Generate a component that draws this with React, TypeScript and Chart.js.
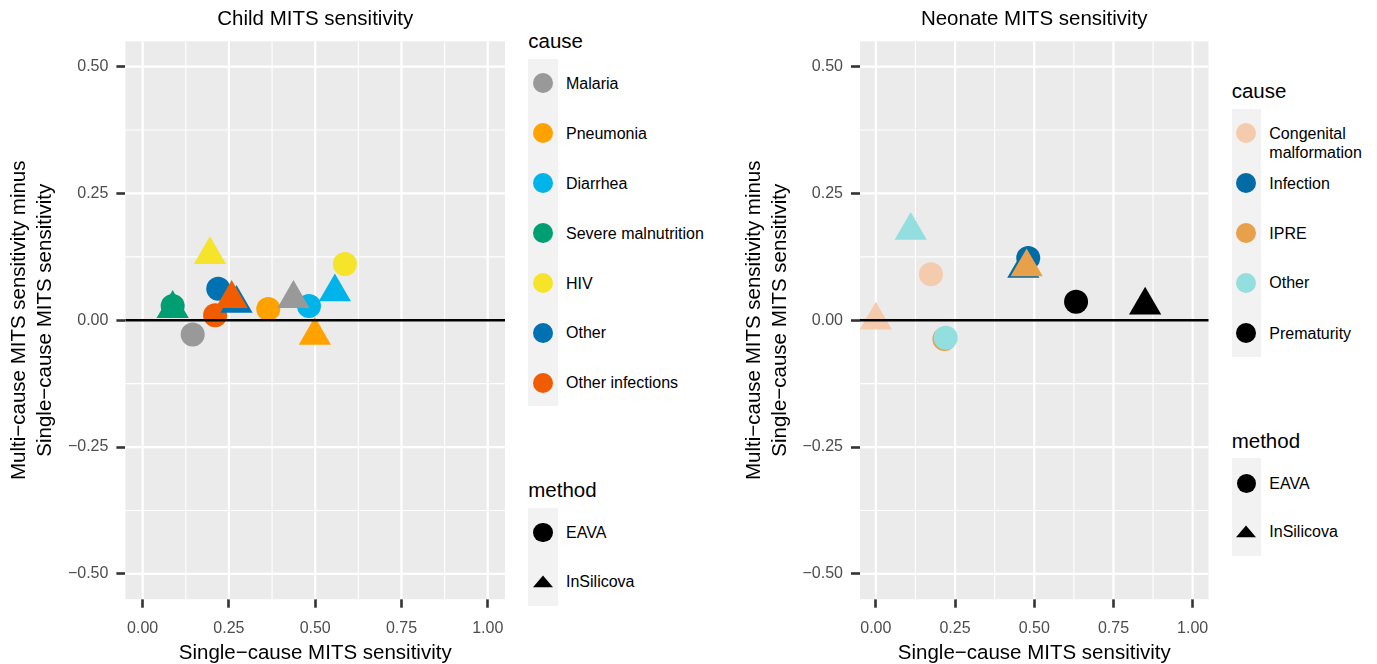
import React, { useEffect, useRef } from 'react';
import { Chart, registerables } from 'chart.js';

Chart.register(...registerables);

const FONT = '"Liberation Sans", Arial, Helvetica, sans-serif';

// ---------- data ----------
const X_TICKS = [0, 0.25, 0.5, 0.75, 1];
const X_TICK_LABELS = ['0.00', '0.25', '0.50', '0.75', '1.00'];
const Y_TICKS = [-0.5, -0.25, 0, 0.25, 0.5];
const Y_TICK_LABELS = ['\u22120.50', '\u22120.25', '0.00', '0.25', '0.50'];
const X_LIMITS = [-0.05, 1.05];
const Y_LIMITS = [-0.55, 0.55];
const METHODS = ['EAVA', 'InSilicova'];

const CHILD_TITLE = 'Child MITS sensitivity';
const CHILD_CAUSES = ['Malaria', 'Pneumonia', 'Diarrhea', 'Severe malnutrition', 'HIV', 'Other', 'Other infections'];
const CHILD_COLORS = ['#999999', '#FFA200', '#00B3E9', '#009E73', '#F5E42A', '#0072B2', '#F25C00'];
const CHILD_EAVA_X = [0.145, 0.364, 0.482, 0.087, 0.586, 0.219, 0.21];
const CHILD_EAVA_Y = [-0.028, 0.022, 0.028, 0.028, 0.111, 0.062, 0.01];
const CHILD_INSILICOVA_X = [0.437, 0.499, 0.557, 0.087, 0.195, 0.272, 0.258];
const CHILD_INSILICOVA_Y = [0.0425, -0.03, 0.0557, 0.023, 0.129, 0.033, 0.0425];

const NEONATE_TITLE = 'Neonate MITS sensitivity';
const NEONATE_CAUSES = ['Congenital\nmalformation', 'Infection', 'IPRE', 'Other', 'Prematurity'];
const NEONATE_COLORS = ['#F5CBAE', '#006BA4', '#E8A04A', '#93DFDF', '#000000'];
const NEONATE_EAVA_X = [0.174, 0.481, 0.2165, 0.2205, 0.632];
const NEONATE_EAVA_Y = [0.0906, 0.1227, -0.037, -0.0344, 0.0366];
const NEONATE_INSILICOVA_X = [0.0, 0.4655, 0.476, 0.11, 0.85];
const NEONATE_INSILICOVA_Y = [0.0, 0.102, 0.105, 0.177, 0.0295];

const X_TITLE = 'Single\u2212cause MITS sensitivity';
const Y_TITLE = ['Multi\u2212cause MITS sensitivity minus', 'Single\u2212cause MITS sensitivity'];

// ---------- plugin: ggplot-like panel ----------
const mids = (t: number[]) => t.slice(1).map((v, i) => (v + t[i]) / 2);

const panelPlugin = {
  id: 'ggpanel',
  beforeDatasetsDraw(chart: any) {
    const { ctx, chartArea: a, scales } = chart;
    const xs = scales.x;
    const ys = scales.y;
    ctx.save();
    ctx.fillStyle = '#EBEBEB';
    ctx.fillRect(a.left, a.top, a.right - a.left, a.bottom - a.top);
    ctx.strokeStyle = '#FFFFFF';
    const vline = (v: number) => {
      const p = xs.getPixelForValue(v);
      ctx.beginPath();
      ctx.moveTo(p, a.top);
      ctx.lineTo(p, a.bottom);
      ctx.stroke();
    };
    const hline = (v: number) => {
      const p = ys.getPixelForValue(v);
      ctx.beginPath();
      ctx.moveTo(a.left, p);
      ctx.lineTo(a.right, p);
      ctx.stroke();
    };
    ctx.lineWidth = 1.1;
    mids(X_TICKS).forEach(vline);
    mids(Y_TICKS).forEach(hline);
    ctx.lineWidth = 2.2;
    X_TICKS.forEach(vline);
    Y_TICKS.forEach(hline);
    ctx.restore();
  },
  afterDatasetsDraw(chart: any) {
    const { ctx, chartArea: a, scales } = chart;
    const p = scales.y.getPixelForValue(0);
    ctx.save();
    ctx.strokeStyle = '#000000';
    ctx.lineWidth = 2.6;
    ctx.beginPath();
    ctx.moveTo(a.left, p);
    ctx.lineTo(a.right, p);
    ctx.stroke();
    ctx.restore();
  },
};

type PanelProps = {
  title: string;
  colors: string[];
  eavaX: number[];
  eavaY: number[];
  inX: number[];
  inY: number[];
  left: number;
  width: number;
  padRight: number;
  yAxisWidth: number;
};

function ChartPanel(p: PanelProps) {
  const ref = useRef<HTMLCanvasElement>(null);
  useEffect(() => {
    const canvas = ref.current;
    if (!canvas) return;
    const chart = new Chart(canvas, {
      type: 'scatter',
      data: {
        datasets: [
          {
            label: METHODS[0],
            data: p.eavaX.map((x, i) => ({ x, y: p.eavaY[i] })),
            pointStyle: 'circle',
            pointRadius: 12,
            pointHoverRadius: 12,
            backgroundColor: p.colors,
            borderWidth: 0,
            order: 2,
          },
          {
            label: METHODS[1],
            data: p.inX.map((x, i) => ({ x, y: p.inY[i] })),
            pointStyle: 'triangle',
            pointRadius: 18.6,
            pointHoverRadius: 18.6,
            backgroundColor: p.colors,
            borderWidth: 0,
            order: 1,
          },
        ],
      },
      options: {
        responsive: false,
        animation: false,
        devicePixelRatio: 1,
        events: [],
        layout: { autoPadding: false, padding: { left: 0, top: 0, right: p.padRight, bottom: 0 } },
        plugins: {
          legend: { display: false },
          tooltip: { enabled: false },
          title: {
            display: true,
            text: p.title,
            fullSize: false,
            color: '#000000',
            font: { size: 20.5, family: FONT, weight: 'normal', lineHeight: 1.2 },
            padding: { top: 7.4, bottom: 9.3 },
          },
        },
        scales: {
          x: {
            type: 'linear',
            min: X_LIMITS[0],
            max: X_LIMITS[1],
            afterBuildTicks: (s: any) => {
              s.ticks = X_TICKS.map((v) => ({ value: v }));
            },
            afterFit: (s: any) => {
              s.height = 64.8;
            },
            ticks: {
              callback: (_v: any, i: number) => X_TICK_LABELS[i],
              color: '#4D4D4D',
              font: { size: 16, family: FONT, lineHeight: 1.2 },
              padding: 11.5,
              maxRotation: 0,
              autoSkip: false,
            },
            grid: {
              drawOnChartArea: false,
              drawTicks: true,
              tickLength: 8.5,
              tickColor: '#333333',
              tickWidth: 2.6,
            },
            border: { display: false },
            title: {
              display: true,
              text: X_TITLE,
              color: '#000000',
              font: { size: 20.5, family: FONT, lineHeight: 1 },
              padding: { top: 0, bottom: 0 },
            },
          },
          y: {
            type: 'linear',
            min: Y_LIMITS[0],
            max: Y_LIMITS[1],
            afterBuildTicks: (s: any) => {
              s.ticks = Y_TICKS.map((v) => ({ value: v }));
            },
            afterFit: (s: any) => {
              s.width = p.yAxisWidth;
            },
            ticks: {
              callback: (_v: any, i: number) => Y_TICK_LABELS[i],
              color: '#4D4D4D',
              font: { size: 16, family: FONT, lineHeight: 1.2 },
              padding: 8,
              autoSkip: false,
            },
            grid: {
              drawOnChartArea: false,
              drawTicks: true,
              tickLength: 9,
              tickColor: '#333333',
              tickWidth: 2.6,
            },
            border: { display: false },
            title: {
              display: true,
              text: Y_TITLE,
              color: '#000000',
              font: { size: 20.5, family: FONT, lineHeight: 1.263 },
              padding: { top: 6.35, bottom: 0 },
            },
          },
        },
      },
      plugins: [panelPlugin],
    } as any);
    return () => chart.destroy();
  }, []);
  return (
    <canvas
      ref={ref}
      width={p.width}
      height={664}
      style={{ position: 'absolute', left: p.left, top: 0, width: p.width, height: 664 }}
    />
  );
}

// ---------- legends (HTML) ----------
type LegendProps = {
  boxLeft: number;
  boxWidth: number;
  textLeft: number;
  causes: string[];
  colors: string[];
  causeTitleBaseline: number;
  causeBoxTop: number;
  causeCenters: number[];
  methodTitleBaseline: number;
  methodBoxTop: number;
  methodCenters: number[];
};

function LegendBlock(l: LegendProps) {
  const cx = l.boxLeft + l.boxWidth / 2;
  const title = (text: string, baseline: number) => (
    <div
      style={{
        position: 'absolute',
        left: l.boxLeft,
        top: baseline - 19.1,
        fontSize: 20.5,
        lineHeight: '24px',
        color: '#000',
        whiteSpace: 'nowrap',
      }}
    >
      {text}
    </div>
  );
  const label = (text: string, center: number, key: string) => {
    const lines = text.split('\n');
    return (
      <div
        key={key}
        style={{
          position: 'absolute',
          left: l.textLeft,
          top: center - 9.6,
          fontSize: 16,
          lineHeight: '19.4px',
          color: '#000',
          whiteSpace: 'nowrap',
        }}
      >
        {lines.map((ln, i) => (
          <div key={i}>{ln}</div>
        ))}
      </div>
    );
  };
  const step = 49.6;
  const causeBoxH = l.causeCenters.length * step;
  const methodBoxH = l.methodCenters.length * 49;
  return (
    <>
      {title('cause', l.causeTitleBaseline)}
      <div
        style={{
          position: 'absolute',
          left: l.boxLeft,
          top: l.causeBoxTop,
          width: l.boxWidth,
          height: causeBoxH,
          background: '#F2F2F2',
        }}
      />
      {l.causes.map((c, i) => (
        <div
          key={'c' + i}
          style={{
            position: 'absolute',
            left: cx - 10,
            top: l.causeCenters[i] - 10,
            width: 20,
            height: 20,
            borderRadius: '50%',
            background: l.colors[i],
          }}
        />
      ))}
      {l.causes.map((c, i) => label(c, l.causeCenters[i], 'cl' + i))}

      {title('method', l.methodTitleBaseline)}
      <div
        style={{
          position: 'absolute',
          left: l.boxLeft,
          top: l.methodBoxTop,
          width: l.boxWidth,
          height: methodBoxH,
          background: '#F2F2F2',
        }}
      />
      <div
        style={{
          position: 'absolute',
          left: cx - 9.6,
          top: l.methodCenters[0] - 9.6,
          width: 19.2,
          height: 19.2,
          borderRadius: '50%',
          background: '#000',
        }}
      />
      <svg
        width={22}
        height={14}
        style={{ position: 'absolute', left: cx - 11, top: l.methodCenters[1] - 7.2 }}
      >
        <polygon points="11,0.5 21,12.3 1,12.3" fill="#000" />
      </svg>
      {METHODS.map((m, i) => label(m, l.methodCenters[i], 'ml' + i))}
    </>
  );
}

export default function App() {
  return (
    <div
      style={{
        position: 'absolute',
        left: 0,
        top: 0,
        width: 1377,
        height: 664,
        overflow: 'hidden',
        background: '#FFFFFF',
        fontFamily: FONT,
      }}
    >
      <ChartPanel
        title={CHILD_TITLE}
        colors={CHILD_COLORS}
        eavaX={CHILD_EAVA_X}
        eavaY={CHILD_EAVA_Y}
        inX={CHILD_INSILICOVA_X}
        inY={CHILD_INSILICOVA_Y}
        left={0}
        width={520}
        padRight={15}
        yAxisWidth={125.4}
      />
      <ChartPanel
        title={NEONATE_TITLE}
        colors={NEONATE_COLORS}
        eavaX={NEONATE_EAVA_X}
        eavaY={NEONATE_EAVA_Y}
        inX={NEONATE_INSILICOVA_X}
        inY={NEONATE_INSILICOVA_Y}
        left={735}
        width={490}
        padRight={16.5}
        yAxisWidth={125}
      />
      <LegendBlock
        boxLeft={528.3}
        boxWidth={29.4}
        textLeft={566}
        causes={CHILD_CAUSES}
        colors={CHILD_COLORS}
        causeTitleBaseline={48.3}
        causeBoxTop={59.3}
        causeCenters={[83.3, 133.3, 183.3, 233.3, 283.3, 332.7, 382.7]}
        methodTitleBaseline={496.7}
        methodBoxTop={508.3}
        methodCenters={[532.7, 581.7]}
      />
      <LegendBlock
        boxLeft={1231.7}
        boxWidth={29}
        textLeft={1269.3}
        causes={NEONATE_CAUSES}
        colors={NEONATE_COLORS}
        causeTitleBaseline={98.3}
        causeBoxTop={109.3}
        causeCenters={[133.3, 183.3, 233.3, 282.7, 333.3]}
        methodTitleBaseline={448.3}
        methodBoxTop={458.3}
        methodCenters={[483.3, 531.7]}
      />
    </div>
  );
}
